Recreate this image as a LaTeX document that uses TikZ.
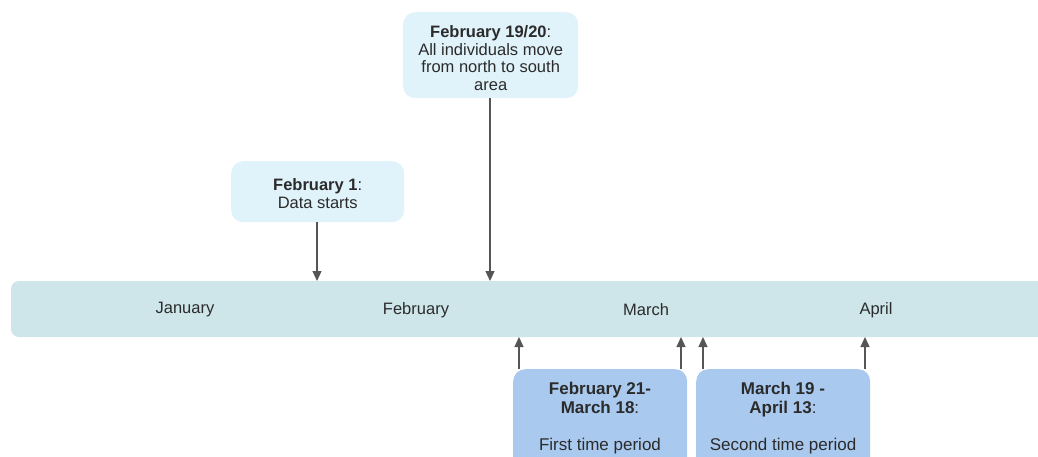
\documentclass[tikz,border=0pt]{standalone}
\usepackage{fontspec}
\setmainfont{Liberation Sans}
\usetikzlibrary{arrows.meta}
\definecolor{topfill}{HTML}{E0F2FA}
\definecolor{barfill}{HTML}{CEE6E9}
\definecolor{botfill}{HTML}{A9C9EE}
\definecolor{txt}{HTML}{2B2B2B}
\definecolor{arr}{HTML}{555555}
\begin{document}
\begin{tikzpicture}[x=1pt,y=-1pt,
  every node/.style={font=\fontsize{16.5}{18}\selectfont, text=txt},
  evbox/.style={rounded corners=12pt, inner sep=0pt, align=center, anchor=north west},
  conn/.style={draw=arr, line width=1.2pt, -{Triangle[length=10pt,width=9pt]}}]
\useasboundingbox (0,0) rectangle (1038,456);
% bar
\fill[barfill, rounded corners=8pt] (11,281) rectangle (1060,337);
\node (jan) at (185,310) {January};
\node (feb) at (416,310) {February};
\node (mar) at (646,310) {March};
\node (apr) at (876,310) {April};
% top boxes
\node[evbox, fill=topfill, minimum width=175pt, minimum height=86pt] (b1920) at (403,12) {};
\node[align=center, font=\fontsize{16.5}{17.7}\selectfont] at ([yshift=-3pt]b1920.center) {\textbf{February 19/20}:\\All individuals move\\from north to south\\area};
\node[evbox, fill=topfill, minimum width=173pt, minimum height=61pt] (b1) at (231,161) {};
\node[align=center, font=\fontsize{16.5}{18}\selectfont] at ([yshift=-2pt]b1.center) {\textbf{February 1}:\\Data starts};
% bottom boxes
\node[evbox, fill=botfill, minimum width=174pt, minimum height=110pt] (p1) at (513,369) {};
\node[align=center, anchor=north, font=\fontsize{17}{19}\selectfont] at (600,379) {\textbf{February 21-}\\\textbf{March 18}:\\[18pt]First time period};
\node[evbox, fill=botfill, minimum width=174pt, minimum height=110pt] (p2) at (696,369) {};
\node[align=center, anchor=north, font=\fontsize{17}{19}\selectfont] at (783,379) {\textbf{March 19 -}\\\textbf{April 13}:\\[18pt]Second time period};
% connector coordinates
\coordinate (t1) at (317,281);
\coordinate (t2) at (490,281);
\coordinate (s1) at (519,337);
\coordinate (s2) at (681,337);
\coordinate (s3) at (703,337);
\coordinate (s4) at (865,337);
\draw[conn] (b1.south -| t1) -- (t1);
\draw[conn] (b1920.south -| t2) -- (t2);
\draw[conn] (p1.north -| s1) -- (s1);
\draw[conn] (p1.north -| s2) -- (s2);
\draw[conn] (p2.north -| s3) -- (s3);
\draw[conn] (p2.north -| s4) -- (s4);
\end{tikzpicture}
\end{document}
